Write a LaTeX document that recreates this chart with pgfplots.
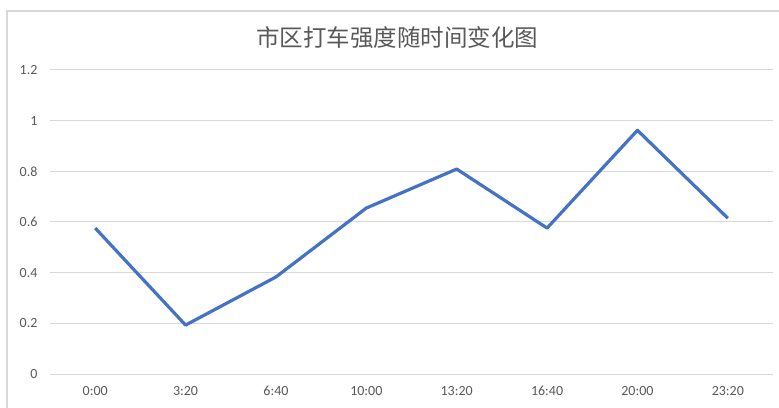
\documentclass[border=0pt]{standalone}
\usepackage{pgfplots}
\pgfplotsset{compat=1.18}
\usepackage{fontspec}
\setmainfont{Carlito}
\newfontfamily\cjk{Noto Sans CJK SC}
\definecolor{lineblue}{HTML}{4472C4}
\definecolor{labgray}{HTML}{595959}
\definecolor{gridgray}{HTML}{D9D9D9}

\begin{document}
\begin{tikzpicture}[x=1pt,y=1pt]
	\path[use as bounding box] (-50,-33) rectangle (729,374);
	\draw[gridgray, line width=1.2pt] (-43,-34) -- (-43,363) -- (730,363);
	\begin{axis}[
		scale only axis,
		width=723pt, height=304pt,
		xmin=-0.5, xmax=7.5,
		ymin=0, ymax=1.2,
		xtick={0,...,7},
		xticklabels={0:00,3:20,6:40,10:00,13:20,16:40,20:00,23:20},
		ytick={0,0.2,0.4,0.6,0.8,1,1.2},
		yticklabels={0,0.2,0.4,0.6,0.8,1,1.2},
		axis line style={draw=none},
		major tick style={draw=none},
		ymajorgrids,
		grid style={gridgray, line width=1pt},
		ticklabel style={font=\fontsize{14}{16}\selectfont, text=labgray},
		xticklabel style={yshift=-9pt},
		yticklabel style={xshift=-9pt},
		/pgf/number format/assume math mode=true,
		]
		\addplot[lineblue, line width=3.2pt, line join=round, mark=none]
		coordinates {(0,0.576) (1,0.193) (2,0.383) (3,0.655)
			(4,0.809) (5,0.576) (6,0.962) (7,0.615)};
	\end{axis}
	\node[text=labgray, font=\cjk\fontsize{23.5}{28}\selectfont] at (347,336) {市区打车强度随时间变化图};
\end{tikzpicture}
\end{document}
